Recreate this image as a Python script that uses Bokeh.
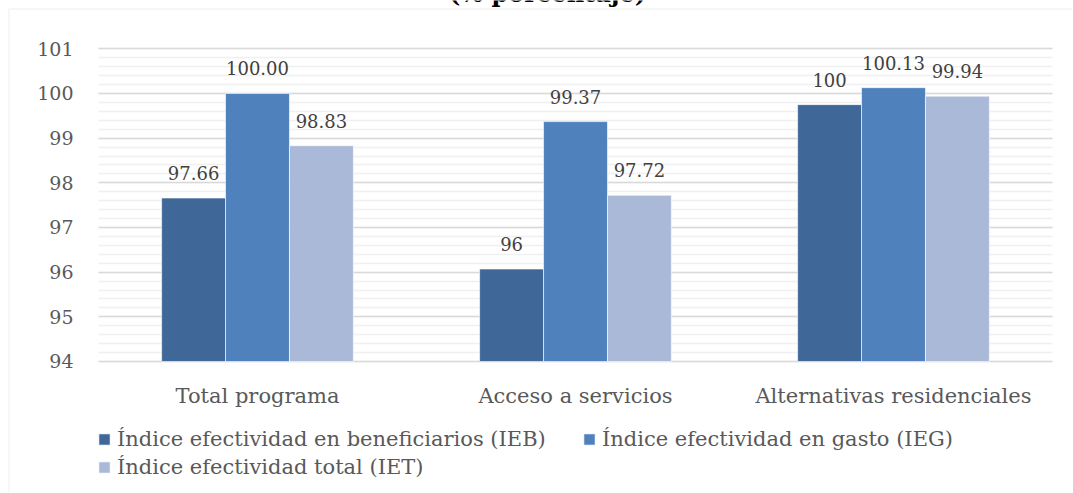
from bokeh.plotting import figure
from bokeh.models import (Range1d, FixedTicker, Legend, LegendItem,
                          Label, BoxAnnotation, ColumnDataSource)
from bokeh.core.properties import value
from bokeh.embed import file_html
from bokeh.resources import INLINE
import numpy as np

# ---------------- data ----------------
categories = ["Total programa", "Acceso a servicios", "Alternativas residenciales"]
ieb = [97.66, 96.07, 99.75]
ieg = [100.00, 99.37, 100.13]
iet = [98.83, 97.72, 99.94]
ieb_labels = ["97.66", "96", "100"]
ieg_labels = ["100.00", "99.37", "100.13"]
iet_labels = ["98.83", "97.72", "99.94"]
series_names = ["Índice efectividad en beneficiarios (IEB)",
                "Índice efectividad en gasto (IEG)",
                "Índice efectividad total (IET)"]
y_ticks = [94, 95, 96, 97, 98, 99, 100, 101]
title_text = "(% porcentaje)"

# ---------------- style / layout ----------------
FONT = "DejaVu Serif"
colors = ["#3F6899", "#4F81BD", "#AAB9D7"]
Y_MIN, Y_MAX = 94, 101
BAR_W = 0.201
W, H = 1072, 492
PX_X = 318.0      # pixels per category
PX_Y = 44.67      # pixels per y unit
PLOT_LEFT = 98    # canvas px where the category axis begins
PLOT_TOP = 48.3   # canvas px of the 101 line
PLOT_BOTTOM = 361 # canvas px of the 94 line

x0 = -PLOT_LEFT / PX_X
x1 = x0 + W / PX_X
y1 = Y_MAX + PLOT_TOP / PX_Y
y0 = Y_MIN - (H - PLOT_BOTTOM) / PX_Y

def px_to_x(px):
    return x0 + px / PX_X

def px_to_y(py):
    return y1 - py / PX_Y

cat_pos = np.arange(len(categories)) + 0.5

src = ColumnDataSource(dict(pos=cat_pos, ieb=ieb, ieg=ieg, iet=iet,
                            ieb_l=ieb_labels, ieg_l=ieg_labels, iet_l=iet_labels))

p = figure(x_range=Range1d(x0, x1), y_range=Range1d(y0, y1),
           width=W, height=H, output_backend="svg", toolbar_location=None,
           min_border=0, min_border_left=0, min_border_right=0,
           min_border_top=0, min_border_bottom=0)
p.outline_line_color = None
p.background_fill_color = "white"
p.border_fill_color = "white"

# axes drawn inside the canvas at fixed data locations
p.yaxis.fixed_location = 0
p.xaxis.fixed_location = Y_MIN
p.yaxis.ticker = FixedTicker(ticks=y_ticks,
                             minor_ticks=list(np.round(np.arange(Y_MIN, Y_MAX + 0.001, 0.2), 2)))
p.xaxis.ticker = FixedTicker(ticks=list(cat_pos))
p.xaxis.major_label_overrides = {float(v): c for v, c in zip(cat_pos, categories)}
for ax in (p.xaxis[0], p.yaxis[0]):
    ax.axis_line_color = None
    ax.major_tick_line_color = None
    ax.minor_tick_line_color = None
    ax.major_tick_in = 0
    ax.major_tick_out = 0
    ax.minor_tick_in = 0
    ax.minor_tick_out = 0
    ax.major_label_text_font = FONT
    ax.major_label_text_color = "#595959"
p.yaxis.major_label_text_font_size = "19px"
p.yaxis.major_label_standoff = 25
p.xaxis.major_label_text_font_size = "21px"
p.xaxis.major_label_standoff = 23

p.xgrid.grid_line_color = None
p.ygrid.grid_line_color = "#D9D9D9"
p.ygrid.grid_line_width = 1.5
p.ygrid.minor_grid_line_color = "#F0F0F0"
p.ygrid.minor_grid_line_width = 1.5
p.ygrid.cross_bounds = (0, len(categories))

# bars + value labels
keys = ["ieb", "ieg", "iet"]
offsets = [-BAR_W, 0, BAR_W]
renderers = []
for k, off, c in zip(keys, offsets, colors):
    src.data["x_" + k] = list(cat_pos + off)
    r = p.vbar(x="x_" + k, top=k, bottom=Y_MIN, width=BAR_W,
               source=src, fill_color=c, line_color="white", line_width=0.6)
    renderers.append(r)
    p.text(x="x_" + k, y=k, text=k + "_l", source=src,
           text_align="center", text_baseline="middle", y_offset=-25,
           text_font=value(FONT), text_font_size="18px", text_color="#404040")

# legends
def make_legend(items, loc):
    lg = Legend(items=items, location=loc, orientation="vertical")
    lg.border_line_color = None
    lg.background_fill_alpha = 0
    lg.padding = 0
    lg.margin = 0
    lg.glyph_width = 14
    lg.glyph_height = 14
    lg.label_standoff = 6
    lg.spacing = 4
    lg.label_height = 24
    lg.label_text_font = FONT
    lg.label_text_font_size = "21px"
    lg.label_text_color = "#595959"
    return lg

leg1 = make_legend([LegendItem(label=series_names[0], renderers=[renderers[0]]),
                    LegendItem(label=series_names[2], renderers=[renderers[2]])], (97, H - 479))
leg2 = make_legend([LegendItem(label=series_names[1], renderers=[renderers[1]])], (582, H - 451))
p.add_layout(leg1)
p.add_layout(leg2)

# chart border (top/left edges visible)
p.add_layout(BoxAnnotation(left=px_to_x(8.5), right=x1 + 1, top=px_to_y(8.5),
                           bottom=y0 - 1, fill_alpha=0, line_color="#D9D9D9", line_width=1.5))

# title (only its lower part is visible)
p.add_layout(Label(x=px_to_x(547), y=px_to_y(-7.3),
                   text=title_text, text_align="center",
                   text_baseline="middle", text_font=FONT, text_font_size="24px",
                   text_font_style="bold", text_color="black"))

open("out.html", "w").write(file_html(p, INLINE))
